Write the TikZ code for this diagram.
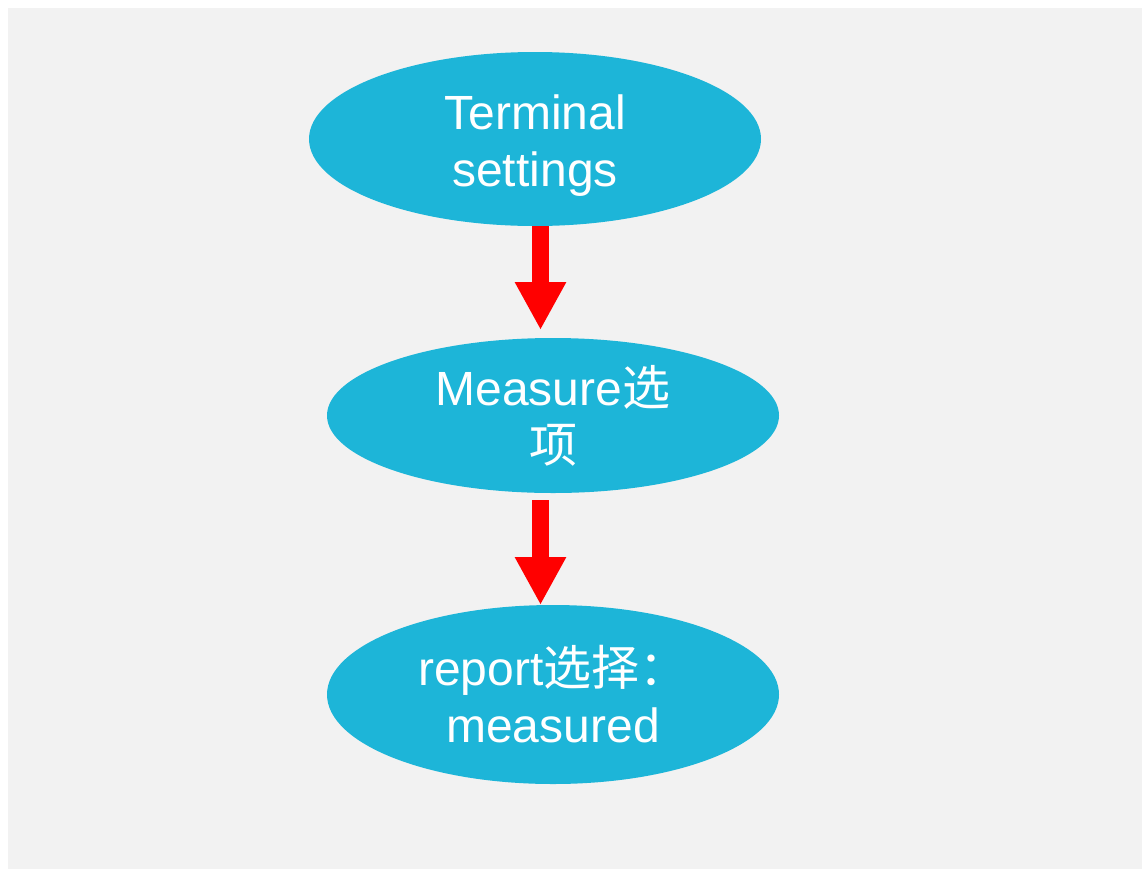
\documentclass[tikz,border=0pt]{standalone}
\usepackage{fontspec}
\setmainfont{Liberation Sans}
\newfontfamily\cjk{Noto Sans CJK SC}
\usetikzlibrary{shapes.geometric,arrows.meta}
\definecolor{bgcol}{HTML}{F2F2F2}
\definecolor{ellcol}{HTML}{1DB5D8}
\definecolor{arrcol}{HTML}{FF0000}
\tikzset{
  stepell/.style={ellipse, fill=ellcol, draw=none, inner sep=0pt, outer sep=0pt,
    minimum width=452pt, text=white, align=center,
    font=\fontsize{48}{57}\selectfont},
  bigarrow/.style={draw=arrcol, line width=16.5pt, -{Triangle[width=48pt,length=48pt,fill=arrcol]}}
}
\begin{document}
\begin{tikzpicture}[x=1pt,y=-1pt]
\useasboundingbox (0,0) rectangle (1142,868);
\fill[white] (0,0) rectangle (1142,868);
\fill[bgcol] (8,8) rectangle (1160,890);
\node[stepell, minimum height=174pt] (t1) at (535,139) {\rule{0pt}{47pt}Terminal\\settings};
\node[stepell, minimum height=155pt] (t2) at (553,415.5) {Measure{\cjk 选}\\{\cjk 项}};
\node[stepell, minimum height=179pt] (t3) at (553,694.5) {report{\cjk 选择：}\\measured};
\coordinate (ax) at (540.5,0);
\draw[bigarrow, shorten >=8pt] (t1.south -| ax) -- (t2.north -| ax);
\draw[bigarrow, shorten <=7pt] (t2.south -| ax) -- (t3.north -| ax);
\end{tikzpicture}
\end{document}
